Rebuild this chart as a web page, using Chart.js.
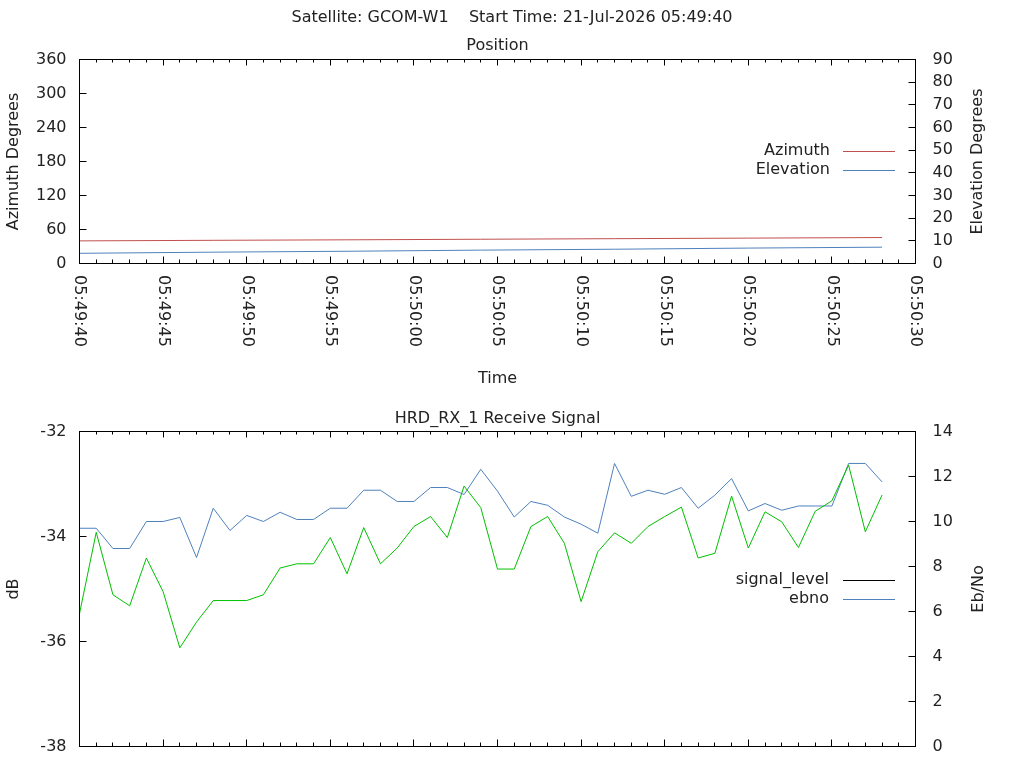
<!DOCTYPE html>
<html>
<head>
<meta charset="utf-8">
<title>GCOM-W1 pass</title>
<script src="https://cdn.jsdelivr.net/npm/chart.js@4.4.1/dist/chart.umd.min.js"></script>
<style>
  html, body { margin: 0; padding: 0; background: #fff; overflow: hidden; }
  #wrap { position: relative; width: 1024px; height: 768px; overflow: hidden; }
  #pos-box { position: absolute; left: 0; top: 0; width: 1024px; height: 400px; }
  /* lower panel runs past the window edge, as in the original */
  #sig-box { position: absolute; left: 0; top: 400px; width: 1024px; height: 420px; }
</style>
</head>
<body>
<div id="wrap">
  <div id="pos-box"><canvas id="pos-chart"></canvas></div>
  <div id="sig-box"><canvas id="sig-chart"></canvas></div>
</div>
<script>
// ---- values ----
const PASS_TITLE = "Satellite: GCOM-W1    Start Time: 21-Jul-2026 05:49:40";

// time axis: seconds after 05:49:40
const timeTicks = [0, 5, 10, 15, 20, 25, 30, 35, 40, 45, 50];
const timeLabels = ["05:49:40", "05:49:45", "05:49:50", "05:49:55", "05:50:00", "05:50:05",
                    "05:50:10", "05:50:15", "05:50:20", "05:50:25", "05:50:30"];

// Position panel
const posSeconds = [0, 8, 16, 24, 32, 40, 48];
const azimuthDeg = [39.9, 40.9, 41.8, 42.8, 43.8, 44.8, 45.8];
const elevationDeg = [4.5, 5.0, 5.4, 5.9, 6.3, 6.8, 7.2];

// Receive signal panel, one sample a second
const sigSeconds = [0, 1, 2, 3, 4, 5, 6, 7, 8, 9, 10, 11, 12, 13, 14, 15, 16, 17, 18, 19, 20,
                    21, 22, 23, 24, 25, 26, 27, 28, 29, 30, 31, 32, 33, 34, 35, 36, 37, 38, 39,
                    40, 41, 42, 43, 44, 45, 46, 47, 48];
const signalLevel = [-35.47, -33.92, -35.11, -35.32, -34.41, -35.05, -36.12, -35.63, -35.22, -35.22,
                     -35.22, -35.11, -34.60, -34.52, -34.52, -34.02, -34.71, -33.83, -34.52, -34.22,
                     -33.81, -33.62, -34.02, -33.04, -33.45, -34.62, -34.62, -33.81, -33.62, -34.13,
                     -35.24, -34.29, -33.93, -34.13, -33.81, -33.62, -33.44, -34.41, -34.32, -33.23,
                     -34.22, -33.53, -33.72, -34.21, -33.52, -33.32, -32.64, -33.91, -33.21];
const ebno = [9.70, 9.70, 8.80, 8.80, 10.00, 10.00, 10.18, 8.40, 10.59, 9.60,
              10.27, 10.00, 10.41, 10.09, 10.09, 10.59, 10.59, 11.39, 11.39, 10.89,
              10.89, 11.51, 11.51, 11.20, 12.32, 11.35, 10.20, 10.89, 10.72, 10.20,
              9.88, 9.48, 12.58, 11.12, 11.39, 11.21, 11.51, 10.59, 11.17, 11.91,
              10.47, 10.80, 10.50, 10.69, 10.69, 10.69, 12.58, 12.58, 11.76];

// ---- style ----
const INK = "#000";
const TEXT = "#222";
const RED = "#c0504d";
const BLUE = "#4f81bd";
const GREEN = "#00c000";
const FONT = { family: "'DejaVu Sans', sans-serif", size: 16 };

Chart.defaults.font.family = FONT.family;
Chart.defaults.font.size = FONT.size;
Chart.defaults.color = TEXT;

const toPoints = (xs, ys) => xs.map((x, i) => ({ x, y: ys[i] }));

// gnuplot look: boxed frame, inward ticks, key with sample line on the right
const gnuplotFrame = {
    id: "gnuplotFrame",
    afterDatasetsDraw(chart, args, opts) {
        const { ctx, chartArea: a, scales } = chart;
        const snap = v => Math.floor(v) + 0.5;
        ctx.save();
        ctx.strokeStyle = INK;
        ctx.lineWidth = 1;
        ctx.strokeRect(snap(a.left), snap(a.top), Math.round(a.right - a.left), Math.round(a.bottom - a.top));

        // time ticks, bottom and mirrored on top
        const xs = scales.x;
        const n = Math.round((xs.max - xs.min) / opts.minorStep);
        const every = Math.round(opts.majorStep / opts.minorStep);
        ctx.beginPath();
        for (let k = 0; k <= n; k++) {
            const px = snap(xs.getPixelForValue(xs.min + k * opts.minorStep));
            const major = k % every === 0;
            const lb = major ? 7 : 4;
            const lt = major ? 6 : 3;
            ctx.moveTo(px, snap(a.bottom)); ctx.lineTo(px, snap(a.bottom) - lb);
            ctx.moveTo(px, snap(a.top)); ctx.lineTo(px, snap(a.top) + lt);
        }
        // y ticks, left and right axes
        const yl = scales[opts.leftId], yr = scales[opts.rightId];
        yl.ticks.forEach(t => {
            const py = snap(yl.getPixelForValue(t.value));
            ctx.moveTo(snap(a.left), py); ctx.lineTo(snap(a.left) + 7, py);
        });
        yr.ticks.forEach(t => {
            const py = snap(yr.getPixelForValue(t.value));
            ctx.moveTo(snap(a.right), py); ctx.lineTo(snap(a.right) - 7, py);
        });
        ctx.stroke();

        ctx.fillStyle = TEXT;
        ctx.font = `${FONT.size}px ${FONT.family}`;

        // rotated time labels
        if (opts.timeLabels) {
            ctx.textAlign = "left";
            ctx.textBaseline = "middle";
            timeTicks.forEach((v, i) => {
                ctx.save();
                ctx.translate(xs.getPixelForValue(v), a.bottom + 11.5);
                ctx.rotate(Math.PI / 2);
                ctx.fillText(timeLabels[i], 0, 0);
                ctx.restore();
            });
        }

        // right axis title reads bottom to top
        ctx.save();
        ctx.translate(opts.rightTitleX, (a.top + a.bottom) / 2);
        ctx.rotate(-Math.PI / 2);
        ctx.textAlign = "center";
        ctx.textBaseline = "middle";
        ctx.fillText(opts.rightTitle, 0, 0);
        ctx.restore();

        // key
        const key = opts.key;
        ctx.textAlign = "right";
        ctx.textBaseline = "middle";
        chart.data.datasets.forEach((ds, i) => {
            const y = key.y + i * key.dy;
            ctx.fillStyle = TEXT;
            ctx.fillText(ds.label, key.textRight, y);
            ctx.strokeStyle = (key.colors && key.colors[ds.label]) || ds.borderColor;
            ctx.beginPath();
            ctx.moveTo(key.lineFrom, y + 0.5);
            ctx.lineTo(key.lineTo, y + 0.5);
            ctx.stroke();
        });
        ctx.restore();
    }
};

function lineSet(label, axis, xs, ys, color) {
    return {
        label, yAxisID: axis, data: toPoints(xs, ys),
        borderColor: color, borderWidth: 1, pointRadius: 0, tension: 0, fill: false
    };
}

const hidden = { display: false, drawTicks: false };

new Chart(document.getElementById("pos-chart"), {
    type: "line",
    data: {
        datasets: [
            lineSet("Azimuth", "yAz", posSeconds, azimuthDeg, RED),
            lineSet("Elevation", "yEl", posSeconds, elevationDeg, BLUE)
        ]
    },
    options: {
        responsive: true,
        maintainAspectRatio: false,
        animation: false,
        events: [],
        layout: { padding: 0 },
        plugins: {
            legend: { display: false },
            tooltip: { enabled: false },
            title: { display: true, text: PASS_TITLE, font: { weight: "normal" }, color: TEXT,
                     padding: { top: 8.4, bottom: 0 } },
            subtitle: { display: true, text: "Position", fullSize: false, font: { weight: "normal" }, color: TEXT,
                        padding: { top: 8.8, bottom: 3.9 } },
            gnuplotFrame: {
                minorStep: 1, majorStep: 5, leftId: "yAz", rightId: "yEl", timeLabels: true,
                rightTitle: "Elevation Degrees", rightTitleX: 977.5,
                key: { y: 151, dy: 19, textRight: 830, lineFrom: 843, lineTo: 895 }
            }
        },
        scales: {
            x: {
                type: "linear", position: "bottom", min: 0, max: 50,
                ticks: { display: false, stepSize: 5 },
                grid: hidden, border: { display: false },
                title: { display: true, text: "Time", color: TEXT, padding: { top: 0, bottom: 11.4 } },
                afterFit: s => { s.height = 136.5; }
            },
            yAz: {
                type: "linear", position: "left", min: 0, max: 360,
                ticks: { stepSize: 60, padding: 13, color: TEXT },
                grid: hidden, border: { display: false },
                title: { display: true, text: "Azimuth Degrees", color: TEXT, padding: { top: 4.4, bottom: 0 } },
                afterFit: s => { s.width = 79.5; }
            },
            yEl: {
                type: "linear", position: "right", min: 0, max: 90,
                ticks: { stepSize: 10, padding: 17, color: TEXT },
                grid: hidden, border: { display: false },
                afterFit: s => { s.width = 108.5; }
            }
        }
    },
    plugins: [gnuplotFrame]
});

new Chart(document.getElementById("sig-chart"), {
    type: "line",
    data: {
        datasets: [
            lineSet("signal_level", "yDb", sigSeconds, signalLevel, GREEN),
            lineSet("ebno", "yEb", sigSeconds, ebno, BLUE)
        ]
    },
    options: {
        responsive: true,
        maintainAspectRatio: false,
        animation: false,
        events: [],
        layout: { padding: 0 },
        plugins: {
            legend: { display: false },
            tooltip: { enabled: false },
            title: { display: true, text: "HRD_RX_1 Receive Signal", fullSize: false, font: { weight: "normal" },
                     color: TEXT, padding: { top: 9.4, bottom: 2.9 } },
            gnuplotFrame: {
                minorStep: 1, majorStep: 5, leftId: "yDb", rightId: "yEb", timeLabels: false,
                rightTitle: "Eb/No", rightTitleX: 979,
                key: { y: 180, dy: 19, textRight: 829, lineFrom: 843, lineTo: 895,
                       colors: { signal_level: INK } }
            }
        },
        scales: {
            x: {
                type: "linear", position: "bottom", min: 0, max: 50,
                ticks: { display: false, stepSize: 5 },
                grid: hidden, border: { display: false },
                afterFit: s => { s.height = 73.5; }
            },
            yDb: {
                type: "linear", position: "left", min: -38, max: -32,
                ticks: { stepSize: 2, padding: 13, color: TEXT },
                grid: hidden, border: { display: false },
                title: { display: true, text: "dB", color: TEXT, padding: { top: 4.4, bottom: 0 } },
                afterFit: s => { s.width = 79.5; }
            },
            yEb: {
                type: "linear", position: "right", min: 0, max: 14,
                ticks: { stepSize: 2, padding: 17, color: TEXT },
                grid: hidden, border: { display: false },
                afterFit: s => { s.width = 108.5; }
            }
        }
    },
    plugins: [gnuplotFrame]
});
</script>
</body>
</html>
